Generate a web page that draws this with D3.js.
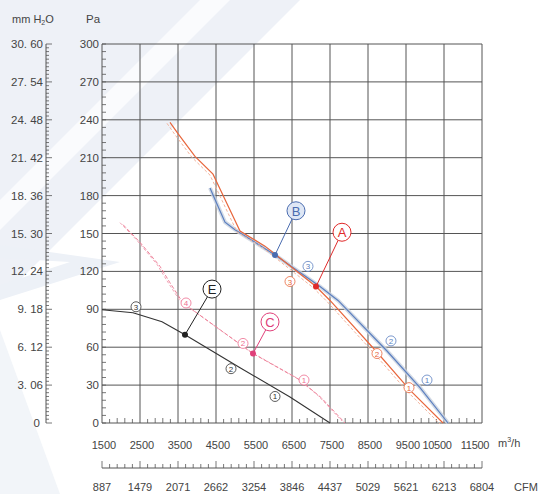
<!DOCTYPE html>
<html><head><meta charset="utf-8">
<script src="https://cdn.jsdelivr.net/npm/d3@7"></script>
<style>
html,body{margin:0;padding:0;background:#fff;}
svg{display:block;font-family:"Liberation Sans",Arial,sans-serif;}
</style></head>
<body>
<svg id="chart" width="539" height="494"></svg>
<script>
// ---- data ----
const flowTicks = [1500,2500,3500,4500,5500,6500,7500,8500,9500,10500,11500];
const cfmLabels = [887,1479,2071,2662,3254,3846,4437,5029,5621,6213,6804];
const paTicks = [0,30,60,90,120,150,180,210,240,270,300];
const mmLabels = ["0","3. 06","6. 12","9. 18","12. 24","15. 30","18. 36","21. 42","24. 48","27. 54","30. 60"];

const curveA = [[3289,238],[3500,229],[3947,211],[4421,197],[4737,177],[5132,152],[5789,140],[7132,108],[7500,97],[8737,56],[9605,26],[10474,0]];
const curveB = [[4342,186],[4474,177],[4737,159],[5000,153],[5263,148],[6053,133],[7237,108],[7711,97],[9000,57],[9868,28],[10605,0]];
const curveC = [[2053,157],[2500,143],[3026,124],[3289,111],[3632,95],[5474,55],[6711,34],[7270,20],[7895,0]];
const curveE = [[1500,89.7],[2316,87.3],[3079,80.2],[3684,69.8],[5132,43.7],[6447,20.6],[7500,0]];

const opA = [7132,108], opB = [6053,133], opC = [5474,55], opE = [3684,69.8];
const lblA = [7816,151], lblB = [6605,168], lblC = [5921,80], lblE = [4395,106];

const mkA = [["3",6447,112],["2",8737,55],["1",9579,28]];
const mkB = [["3",6921,124],["2",9105,65],["1",10053,34]];
const mkC = [["4",3711,95],["2",5211,63],["1",6816,34]];
const mkE = [["3",2395,92],["2",4895,43],["1",6053,21]];

// ---- layout ----
const svg = d3.select("#chart");
const x = d3.scaleLinear().domain([1500,11500]).range([102,482]);
const y = d3.scaleLinear().domain([0,300]).range([423,44]);
const ymm = d3.scaleLinear().domain([0,30.6]).range([423,44]);
const xc = d3.scaleLinear().domain([887,6804]).range([102,482]);

// watermark
svg.append("polygon").attr("points","0,0 300,0 0,300").attr("fill","#eef1f7");
svg.append("polygon").attr("points","0,200 200,0 230,0 0,230").attr("fill","#ffffff").attr("opacity",0.7);
svg.append("polygon").attr("points","0,245 120,262 0,300 0,285 70,262 0,258").attr("fill","#edf1f7");
svg.append("polygon").attr("points","0,330 60,494 0,494").attr("fill","#f2f5f9");

const gridC = "#555", textC = "#444";

// grid
const g = svg.append("g");
g.selectAll(".vg").data(flowTicks).join("line")
  .attr("x1",d=>x(d)).attr("x2",d=>x(d)).attr("y1",y(0)).attr("y2",y(300))
  .attr("stroke",gridC).attr("stroke-width",1);
g.selectAll(".hg").data(paTicks).join("line")
  .attr("x1",x(1500)).attr("x2",x(11500)).attr("y1",d=>y(d)).attr("y2",d=>y(d))
  .attr("stroke",gridC).attr("stroke-width",1);

// Pa minor ticks
const paMinor = d3.range(0,300.1,6);
g.selectAll(".pm").data(paMinor).join("line")
  .attr("x1",x(1500)).attr("x2",x(1500)+4).attr("y1",d=>y(d)).attr("y2",d=>y(d))
  .attr("stroke",gridC).attr("stroke-width",0.8);
// flow minor ticks at bottom
const flMinor = d3.range(1500,11500.1,200);
g.selectAll(".fm").data(flMinor).join("line")
  .attr("x1",d=>x(d)).attr("x2",d=>x(d)).attr("y1",y(0)).attr("y2",d=>y(0)-((d-1500)%1000===0?0:((d-1500)%1000===600||(d-1500)%1000===400?5:4)))
  .attr("stroke",gridC).attr("stroke-width",0.8);

// Pa labels
svg.selectAll(".pl").data(paTicks).join("text")
  .attr("x",99).attr("y",d=>y(d)+4).attr("text-anchor","end")
  .attr("font-size",11.5).attr("fill",textC).text(d=>d);

// mm H2O axis
svg.append("line").attr("x1",46).attr("x2",46).attr("y1",ymm(0)).attr("y2",ymm(30.6)).attr("stroke",gridC);
const mmMinor = d3.range(0,101).map(i=>i*0.306);
svg.selectAll(".mmt").data(mmMinor).join("line")
  .attr("x1",46).attr("x2",(d,i)=>46+(i%10===0?6:3)).attr("y1",d=>ymm(d)).attr("y2",d=>ymm(d))
  .attr("stroke",gridC).attr("stroke-width",0.8);
svg.selectAll(".mml").data(mmLabels).join("text")
  .attr("x",(d,i)=>i===0?40:43).attr("y",(d,i)=>ymm(i*3.06)+4).attr("text-anchor","end")
  .attr("font-size",11.5).attr("fill",textC).text(d=>d);

// titles
const t1 = svg.append("text").attr("x",12).attr("y",23).attr("font-size",11).attr("fill",textC);
t1.append("tspan").text("mm H");
t1.append("tspan").attr("font-size",7).attr("dy",2).text("2");
t1.append("tspan").attr("dy",-2).text("O");
svg.append("text").attr("x",86).attr("y",23).attr("font-size",11.5).attr("fill",textC).text("Pa");

// flow labels
svg.selectAll(".fl").data(flowTicks).join("text")
  .attr("x",d=>x(d)+(d>=10000?-7:2)).attr("y",449).attr("text-anchor","middle")
  .attr("font-size",11).attr("letter-spacing",d=>d>=10000?"-0.3":"0")
  .attr("fill",textC).text(d=>d);
const t2 = svg.append("text").attr("x",498).attr("y",447).attr("font-size",11).attr("fill",textC);
t2.append("tspan").text("m");
t2.append("tspan").attr("font-size",7).attr("dy",-5).text("3");
t2.append("tspan").attr("dy",5).text("/h");

// CFM axis
svg.append("line").attr("x1",xc(887)).attr("x2",xc(6804)).attr("y1",468).attr("y2",468).attr("stroke",gridC);
const cfmMinor = d3.range(0,51).map(i=>887+i*(6804-887)/50);
svg.selectAll(".cm").data(cfmMinor).join("line")
  .attr("x1",d=>xc(d)).attr("x2",d=>xc(d)).attr("y1",468).attr("y2",(d,i)=>468-(i%5===0?7:4))
  .attr("stroke",gridC).attr("stroke-width",0.8);
svg.selectAll(".cl").data(cfmLabels).join("text")
  .attr("x",d=>xc(d)).attr("y",491).attr("text-anchor","middle")
  .attr("font-size",11).attr("fill",textC).text(d=>d);
svg.append("text").attr("x",514).attr("y",491).attr("font-size",11).attr("fill",textC).text("CFM");

// curves
const line = d3.line().x(d=>x(d[0])).y(d=>y(d[1])).curve(d3.curveLinear);
const cg = svg.append("g");
// B band
cg.append("path").datum(curveB).attr("d",line).attr("fill","none").attr("stroke","#c9d2df").attr("stroke-width",4).attr("opacity",0.8);
cg.append("path").datum(curveB).attr("d",line).attr("fill","none").attr("stroke","#5b7fc0").attr("stroke-width",1.2);
// A
cg.append("path").datum(curveA).attr("d",line).attr("fill","none").attr("stroke","#f3b49c").attr("stroke-width",1).attr("stroke-dasharray","3,2").attr("transform","translate(-3,1)");
cg.append("path").datum(curveA).attr("d",line).attr("fill","none").attr("stroke","#e8663c").attr("stroke-width",1.2);
// C
cg.append("path").datum(curveC).attr("d",line).attr("fill","none").attr("stroke","#f3a6b8").attr("stroke-width",1).attr("stroke-dasharray","3,2").attr("transform","translate(-3,-2)");
cg.append("path").datum(curveC).attr("d",line).attr("fill","none").attr("stroke","#ee8098").attr("stroke-width",1).attr("stroke-dasharray","4,2");
// E
cg.append("path").datum(curveE).attr("d",line).attr("fill","none").attr("stroke","#333").attr("stroke-width",1.1);

// markers
function markers(list,color){
  const m = svg.append("g").selectAll("g").data(list).join("g")
    .attr("transform",d=>`translate(${x(d[1])},${y(d[2])})`);
  m.append("circle").attr("r",5).attr("fill","#fff").attr("stroke",color).attr("stroke-width",0.8);
  m.append("text").attr("y",3).attr("text-anchor","middle").attr("font-size",8).attr("fill",color).text(d=>d[0]);
}
markers(mkA,"#e8663c");
markers(mkB,"#5b7fc0");
markers(mkC,"#ee6f90");
markers(mkE,"#333");

// callouts
function callout(pt,lb,name,color,fill){
  const px=x(pt[0]),py=y(pt[1]),lx=x(lb[0]),ly=y(lb[1]);
  const a=Math.atan2(py-ly,px-lx);
  svg.append("line").attr("x1",px).attr("y1",py).attr("x2",lx+9*Math.cos(a)).attr("y2",ly+9*Math.sin(a))
    .attr("stroke",color).attr("stroke-width",1);
  svg.append("circle").attr("cx",px).attr("cy",py).attr("r",3).attr("fill",color);
  svg.append("circle").attr("cx",lx).attr("cy",ly).attr("r",9).attr("fill",fill).attr("stroke",color).attr("stroke-width",1);
  svg.append("text").attr("x",lx).attr("y",ly+5).attr("text-anchor","middle").attr("font-size",13).attr("fill",color).text(name);
}
callout(opA,lblA,"A","#e02a2a","#fff");
callout(opB,lblB,"B","#4a6cb0","#dfe7f5");
callout(opC,lblC,"C","#e0407a","#fff");
callout(opE,lblE,"E","#222","#fff");
</script>
</body></html>
